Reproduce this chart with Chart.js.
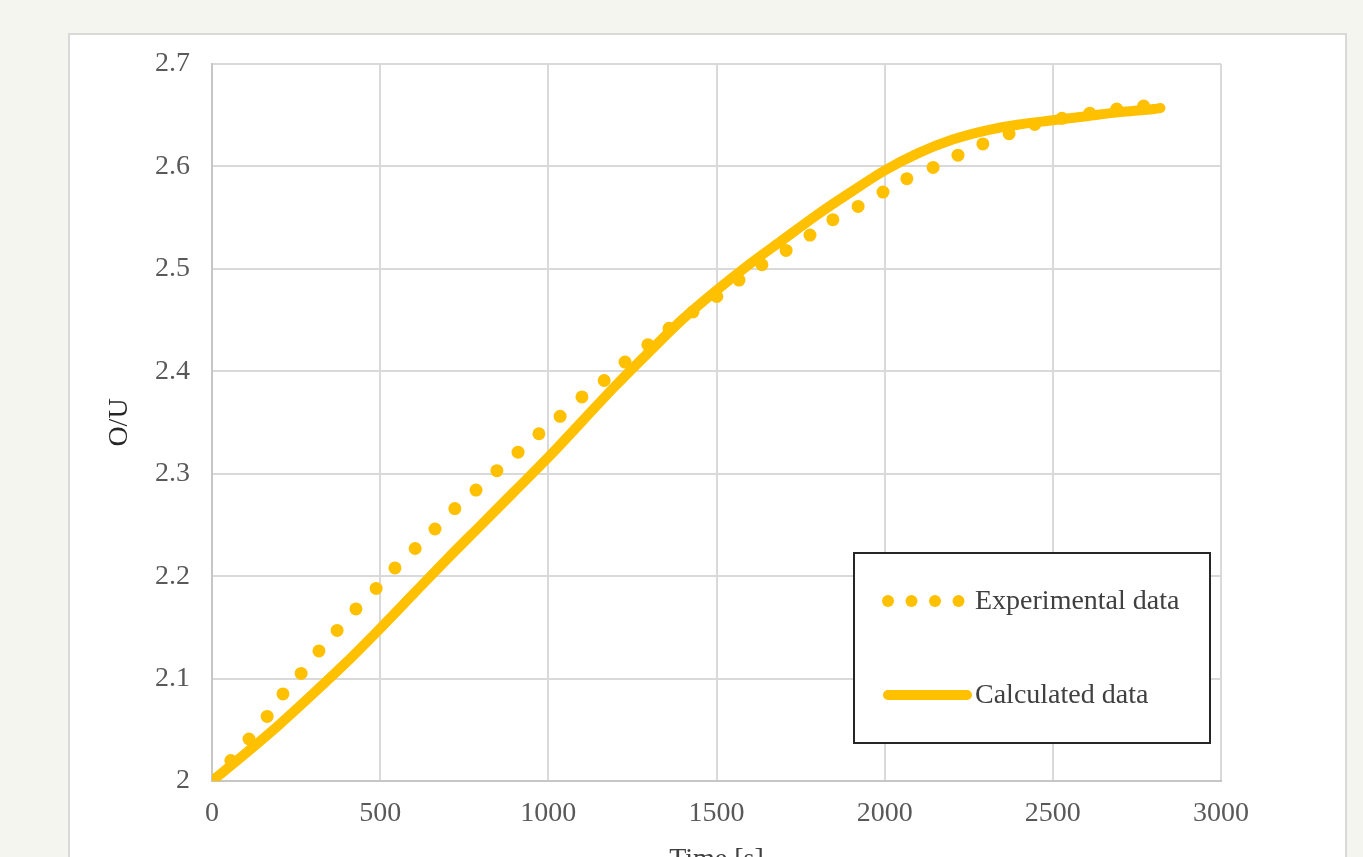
<!DOCTYPE html>
<html>
<head>
<meta charset="utf-8">
<script src="https://cdn.jsdelivr.net/npm/chart.js@4.4.0/dist/chart.umd.min.js"></script>
<style>
  html, body { margin: 0; padding: 0; background: #f3f5ee; overflow: hidden; width: 1363px; height: 857px; }
  #panel {
    position: absolute; left: 68px; top: 33px;
    width: 1275px; height: 841px;
    background: #fff; border: 2px solid #d9d9d9;
  }
</style>
</head>
<body>
<div id="panel"><canvas id="chart"></canvas></div>
<script>
// experimental points
const expTime = [0, 56, 110, 164, 211, 265, 318, 372, 428, 488, 544, 604, 663, 722, 785, 847, 910, 972,
  1035, 1100, 1166, 1228, 1296, 1359, 1430, 1501, 1567, 1635, 1707, 1778, 1846, 1921, 1995, 2066,
  2144, 2218, 2292, 2370, 2446, 2527, 2610, 2690, 2770]
const expOU = [2.000, 2.020, 2.041, 2.063, 2.085, 2.105, 2.127, 2.147, 2.168, 2.188, 2.208, 2.227, 2.246,
  2.266, 2.284, 2.303, 2.321, 2.339, 2.356, 2.375, 2.391, 2.409, 2.426, 2.442, 2.458, 2.473, 2.489,
  2.504, 2.518, 2.533, 2.548, 2.561, 2.575, 2.588, 2.599, 2.611, 2.622, 2.632, 2.641, 2.647, 2.652,
  2.656, 2.659]

// calculated curve
const calcTime = [0, 100, 200, 300, 400, 500, 600, 700, 800, 900, 1000, 1100, 1200, 1300, 1400, 1500,
  1600, 1700, 1800, 1900, 2000, 2100, 2200, 2300, 2400, 2500, 2600, 2700, 2800, 2820]
const calcOU = [2.000, 2.027, 2.055, 2.085, 2.116, 2.149, 2.183, 2.217, 2.250, 2.283, 2.316, 2.351, 2.386,
  2.419, 2.451, 2.479, 2.505, 2.529, 2.553, 2.575, 2.596, 2.613, 2.626, 2.635, 2.641, 2.645, 2.649,
  2.653, 2.656, 2.657]

const seriesNames = ['Experimental data', 'Calculated data']
const xTicks = { min: 0, max: 3000, step: 500 }
const yTicks = { min: 2, max: 2.7, step: 0.1 }

const ORANGE = '#ffc000'
const FONT = 'Liberation Serif, Times New Roman, serif'

const toPoints = (xs, ys) => xs.map((x, i) => ({ x, y: ys[i] }))

// legend drawn as a framed box inside the plot, like the original
const legendBox = {
  id: 'legendBox',
  afterDraw (chart) {
    const { ctx, chartArea } = chart
    const bx = chartArea.left + 642
    const by = chartArea.top + 489
    const bw = 356
    const bh = 190
    ctx.save()
    ctx.fillStyle = '#fff'
    ctx.fillRect(bx, by, bw, bh)
    ctx.lineWidth = 2
    ctx.strokeStyle = '#262626'
    ctx.strokeRect(bx, by, bw, bh)

    ctx.font = `28px ${FONT}`
    ctx.textBaseline = 'middle'
    ctx.textAlign = 'left'

    const rows = [by + 48, by + 142]
    chart.data.datasets.forEach((ds, i) => {
      const cy = rows[i]
      ctx.fillStyle = ORANGE
      ctx.strokeStyle = ORANGE
      if (ds.showLine) {
        ctx.lineWidth = 10
        ctx.lineCap = 'round'
        ctx.beginPath()
        ctx.moveTo(bx + 34, cy)
        ctx.lineTo(bx + 113, cy)
        ctx.stroke()
      } else {
        for (let k = 0; k < 4; k++) {
          ctx.beginPath()
          ctx.arc(bx + 34 + k * 23.5, cy, 6, 0, Math.PI * 2)
          ctx.fill()
        }
      }
      ctx.fillStyle = '#404040'
      ctx.fillText(ds.label, bx + 121, cy + 1)
    })
    ctx.restore()
  }
}

const ctx = document.getElementById('chart').getContext('2d')

new Chart(ctx, {
  type: 'scatter',
  data: {
    datasets: [
      {
        label: seriesNames[0],
        data: toPoints(expTime, expOU),
        showLine: false,
        pointRadius: 6.5,
        pointHoverRadius: 6.5,
        pointBackgroundColor: ORANGE,
        pointBorderWidth: 0,
        order: 1
      },
      {
        label: seriesNames[1],
        data: toPoints(calcTime, calcOU),
        showLine: true,
        borderColor: ORANGE,
        borderWidth: 10,
        borderCapStyle: 'round',
        borderJoinStyle: 'round',
        cubicInterpolationMode: 'monotone',
        pointRadius: 0,
        order: 0
      }
    ]
  },
  options: {
    responsive: true,
    maintainAspectRatio: false,
    animation: false,
    layout: { padding: { left: 33, top: 29, right: 124, bottom: 0 } },
    plugins: {
      legend: { display: false },
      tooltip: { enabled: false }
    },
    scales: {
      x: {
        type: 'linear',
        min: xTicks.min,
        max: xTicks.max,
        afterFit: (s) => { s.height = 95 },
        ticks: {
          stepSize: xTicks.step,
          padding: 16,
          color: '#595959',
          font: { family: FONT, size: 28 },
          callback: (v) => String(v)
        },
        grid: { color: '#d9d9d9', lineWidth: 2, drawTicks: false },
        border: { color: '#c6c6c6', width: 2 },
        title: {
          display: true,
          text: 'Time [s]',
          color: '#404040',
          padding: 0,
          font: { family: FONT, size: 28 }
        }
      },
      y: {
        min: yTicks.min,
        max: yTicks.max,
        afterFit: (s) => {
          s.width = 109
          s.paddingTop = 0
          s.paddingBottom = 0
        },
        ticks: {
          stepSize: yTicks.step,
          padding: 22,
          color: '#595959',
          font: { family: FONT, size: 28 },
          callback: (v) => String(Number(v.toFixed(1)))
        },
        grid: { color: '#d9d9d9', lineWidth: 2, drawTicks: false },
        border: { color: '#c6c6c6', width: 2 },
        title: {
          display: true,
          text: 'O/U',
          color: '#262626',
          padding: 0,
          font: { family: FONT, size: 28 }
        }
      }
    }
  },
  plugins: [legendBox]
})
</script>
</body>
</html>
